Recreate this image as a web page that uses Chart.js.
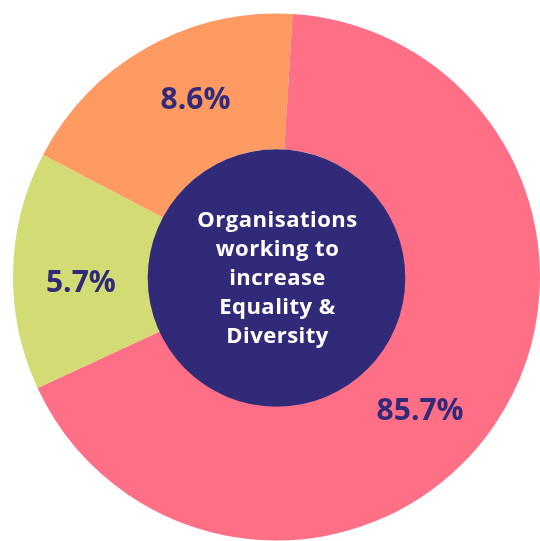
<!DOCTYPE html>
<html>
<head>
<meta charset="utf-8">
<script src="https://cdn.jsdelivr.net/npm/chart.js@4"></script>
<style>
  html, body { margin: 0; padding: 0; background: #fff; }
  #wrap { width: 540px; height: 541px; }
</style>
</head>
<body>
<div id="wrap"><canvas id="orgChart" width="540" height="541"></canvas></div>
<script>
// slice sizes as drawn in the picture, and the labels printed on them
const categories = ["Working to increase E&D", "Not sure", "Not working on it"];
const sliceValues = [67.1, 14.6, 18.3];
const sliceLabels = ["85.7%", "5.7%", "8.6%"];
const centreText = ["Organisations", "working to", "increase", "Equality &", "Diversity"];

const navy = "#312a78";

const centreCircle = {
  id: "centreCircle",
  afterDatasetsDraw(chart, args, opts) {
    const ctx = chart.ctx;
    const arcs = chart.getDatasetMeta(0).data;
    if (!arcs.length) return;
    const { x, y, innerRadius } = arcs[0].getProps(["x", "y", "innerRadius"], true);

    ctx.save();
    ctx.beginPath();
    ctx.arc(x, y + 1, innerRadius + 1, 0, Math.PI * 2);
    ctx.fillStyle = navy;
    ctx.fill();

    ctx.fillStyle = "#ffffff";
    ctx.font = "bold 22px 'Open Sans'";
    ctx.letterSpacing = "0.5px";
    ctx.textAlign = "center";
    ctx.textBaseline = "middle";
    const lh = 29;
    const top = y + 2 - ((centreText.length - 1) * lh) / 2;
    centreText.forEach((t, i) => ctx.fillText(t, x + 1, top + i * lh));

    // percentage labels on the ring
    ctx.letterSpacing = "0px";
    ctx.fillStyle = navy;
    ctx.font = "bold 30px 'Open Sans'";
    arcs.forEach((arc, i) => {
      const p = arc.getProps(["x", "y", "startAngle", "endAngle", "innerRadius", "outerRadius"], true);
      const mid = (p.startAngle + p.endAngle) / 2 + (opts.nudge[i] * Math.PI) / 180;
      const r = (p.innerRadius + p.outerRadius) / 2;
      ctx.fillText(sliceLabels[i], p.x + Math.cos(mid) * r, p.y + 2 + Math.sin(mid) * r);
    });
    ctx.restore();
  },
};

new Chart(document.getElementById("orgChart").getContext("2d"), {
  type: "doughnut",
  data: {
    labels: categories,
    datasets: [
      {
        data: sliceValues,
        backgroundColor: ["#ff7086", "#d3dc74", "#ff9a63"],
        borderWidth: 0,
      },
    ],
  },
  options: {
    responsive: false,
    animation: false,
    rotation: 3.5,
    cutout: "48.5%",
    layout: { padding: { left: 13, top: 13, right: 0, bottom: 0 } },
    plugins: {
      legend: { display: false },
      tooltip: { enabled: false },
      centreCircle: { nudge: [8.5, -2.5, 5] },
    },
  },
  plugins: [centreCircle],
});
</script>
</body>
</html>
